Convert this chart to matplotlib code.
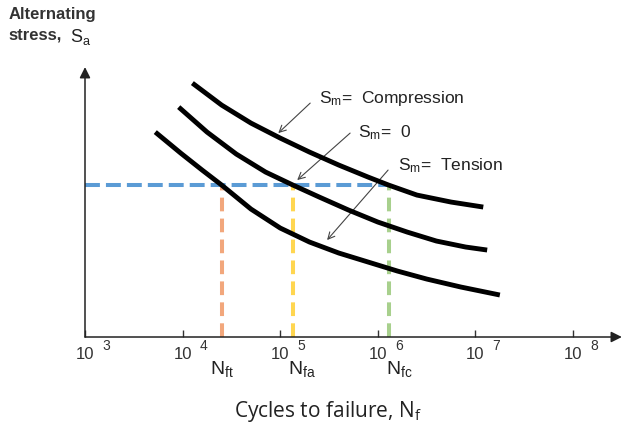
import numpy as np
import matplotlib.pyplot as plt

plt.rcParams["font.family"] = ["Liberation Sans", "DejaVu Sans"]
plt.rcParams["mathtext.fontset"] = "custom"
plt.rcParams["mathtext.rm"] = "Liberation Sans"
plt.rcParams["mathtext.it"] = "Liberation Sans"

# S-N curves: log10(cycles) and alternating stress (arbitrary units)
logn_comp = [4.10, 4.40, 4.70, 5.00, 5.30, 5.60, 5.90, 6.11, 6.40, 6.75, 7.08]
s_comp = [254, 232, 214, 199, 185, 172, 160, 152, 142, 135, 130]

logn_zero = [3.96, 4.25, 4.55, 4.85, 5.13, 5.40, 5.70, 6.00, 6.30, 6.60, 6.90, 7.12]
s_zero = [230, 205, 183, 165, 152, 140, 127, 115, 105, 96, 90, 87]

logn_tens = [3.72, 3.98, 4.20, 4.40, 4.70, 5.00, 5.30, 5.60, 5.90, 6.20, 6.50, 6.85, 7.25]
s_tens = [205, 184, 167, 152, 128, 109, 95, 84, 75, 66, 58, 50, 42]

# constant alternating stress level and the three lives it gives
s_level = 152
logn_lives = [4.40, 5.13, 6.11]
logn_life_text = [4.40, 5.22, 6.22]
life_labels = [r"N$_\mathregular{ft}$", r"N$_\mathregular{fa}$", r"N$_\mathregular{fc}$"]
life_colors = ["#F2A77C", "#FFD650", "#A8D08D"]

decade_exp = [3, 4, 5, 6, 7, 8]

fig = plt.figure(figsize=(6.25, 4.33), dpi=100)
ax = fig.add_axes([0.136, 0.2217, 0.859, 0.621])
ax.set_xscale("log")
ax.set_xlim(1e3, 10 ** 8.5)
ax.set_ylim(0, 269)

for logn, s in [(logn_comp, s_comp), (logn_zero, s_zero), (logn_tens, s_tens)]:
    ax.plot(10 ** np.array(logn), s, color="black", lw=3.5,
            solid_capstyle="butt", solid_joinstyle="round", zorder=4)

ax.plot([1e3, 10 ** logn_lives[2]], [s_level, s_level], color="#5B9BD5",
        lw=2.9, dashes=(3.7, 1.5), zorder=3)
for logn, c in zip(logn_lives, life_colors):
    ax.plot([10 ** logn] * 2, [0, s_level], color=c, lw=2.9,
            dashes=(3.4, 1.8), zorder=2)

# axes drawn as arrows
for sp in ax.spines.values():
    sp.set_visible(False)
arrow_kw = dict(arrowstyle="-|>", color="#222222", lw=1.1, mutation_scale=16,
                shrinkA=0, shrinkB=0)
ax.annotate("", xy=(10 ** 8.5, 0), xytext=(1e3, 0), arrowprops=arrow_kw,
            annotation_clip=False)
ax.annotate("", xy=(1e3, 270), xytext=(1e3, 0), arrowprops=arrow_kw,
            annotation_clip=False)

ax.set_xticks([10.0 ** k for k in decade_exp])
ax.set_xticklabels([])
ax.minorticks_off()
ax.tick_params(axis="x", direction="in", length=5, width=1, color="#333333")
ax.set_yticks([])

# decade labels: "10" centred on the tick, exponent set apart to the right
for k in decade_exp:
    ax.annotate("10", xy=(10.0 ** k, 0), xytext=(0, -17),
                textcoords="offset pixels", ha="center", va="center",
                fontsize=12, color="#333333", annotation_clip=False)
    ax.annotate(str(k), xy=(10.0 ** k, 0), xytext=(17, -9),
                textcoords="offset pixels", ha="left", va="center",
                fontsize=10, color="#333333", annotation_clip=False)

for logn, lab in zip(logn_life_text, life_labels):
    ax.text(10 ** logn, -32, lab, ha="center", va="center", fontsize=14,
            color="#222222")

# curve labels with leader arrows
notes = [
    (r"S$_\mathregular{m}$=  Compression", (5.40, 234), (4.98, 204), (5.307, 234)),
    (r"S$_\mathregular{m}$=  0", (5.80, 200), (5.174, 157), (5.716, 204)),
    (r"S$_\mathregular{m}$=  Tension", (6.21, 167), (5.48, 97), (6.105, 167)),
]
for txt, tpos, tip, start in notes:
    ax.text(10 ** tpos[0], tpos[1], txt, fontsize=12.5, va="baseline",
            ha="left", color="#222222")
    ax.annotate("", xy=(10 ** tip[0], tip[1]), xytext=(10 ** start[0], start[1]),
                arrowprops=dict(arrowstyle="->", color="#444444", lw=0.8,
                                mutation_scale=12, shrinkA=0, shrinkB=0))

fig.text(0.013, 0.956, "Alternating", fontsize=12, weight="bold",
         color="#333333", va="baseline")
fig.text(0.013, 0.908, "stress,", fontsize=12, weight="bold",
         color="#333333", va="baseline")
fig.text(0.112, 0.903, r"S$_\mathregular{a}$", fontsize=13,
         color="#222222", va="baseline")

fig.text(0.525, 0.037, r"Cycles to failure, N$_\mathregular{f}$",
         fontsize=15, ha="center", va="baseline", color="#222222",
         family="Open Sans")

fig.savefig("out.png", dpi=100)
